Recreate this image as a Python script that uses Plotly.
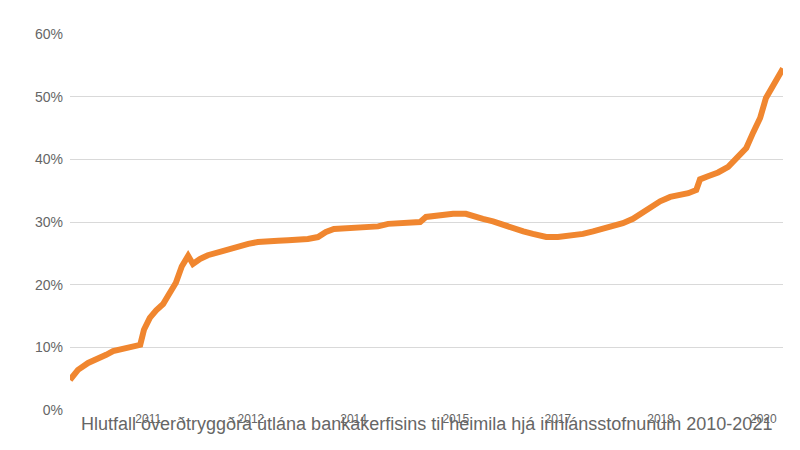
import plotly.graph_objects as go

months = [0,1.5,3.4,5.3,6.8,8.1,10,11.8,13.2,13.9,15,16.2,17.5,18.4,19.9,21,22.2,23.1,24.4,25.9,27.8,29.3,30.6,32,33.5,35.3,37.2,39.1,41,42.9,44.7,46.6,48.1,49.6,51.3,54.1,56,57.9,59.8,61.7,63.5,65.8,66.9,69.2,72,74.4,75.8,77.6,79.5,81.4,83.3,85.2,87,89.5,91.7,94,96.4,98.3,100.2,102.1,103.9,105.8,107.3,109,110.9,112.8,114.7,116.2,117.7,118.4,119.9,121.8,123.7,125.2,127.1,128.4,129.7,130.8,132.1,134]
values = [4.8,6.4,7.5,8.1,8.8,9.4,9.7,10.0,10.4,12.8,14.7,15.9,16.9,18.2,20.3,22.9,24.6,23.3,24.1,24.7,25.2,25.4,25.8,26.3,26.5,26.8,27.0,27.0,27.1,27.1,27.3,27.6,28.4,28.9,29.0,29.0,29.2,29.3,29.7,29.8,29.8,30.0,30.8,31.1,31.3,31.3,30.9,30.5,30.1,29.5,28.9,28.5,28.1,27.6,27.6,27.8,28.1,28.5,28.9,29.3,29.8,30.5,31.4,32.4,33.3,34.0,34.3,34.6,35.1,36.8,37.3,37.9,38.8,40.0,41.8,44.3,46.6,49.8,51.8,54.5]
tick_pos = [14.7,34,53.3,72.5,91.7,111,130.3]
tick_labels = ["2011","2012","2014","2015","2017","2019","2020"]
y_ticks = [0,10,20,30,40,50,60]
y_labels = ["0%","10%","20%","30%","40%","50%","60%"]
title = "Hlutfall óverðtryggðra útlána bankakerfisins til heimila hjá innlánsstofnunum 2010-2021"

fig = go.Figure(go.Scatter(x=months, y=values, mode="lines",
    line=dict(color="#f0862f", width=6), hoverinfo="skip"))
fig.update_layout(
    width=800, height=450, plot_bgcolor="white", paper_bgcolor="white",
    margin=dict(l=62, r=25, t=26, b=48), showlegend=False,
    font=dict(family="Liberation Sans, Arial", color="#666666"),
    xaxis=dict(range=[0,134], tickvals=tick_pos, ticktext=tick_labels, automargin=False,
               showgrid=False, zeroline=False, showline=False,
               tickfont=dict(size=12, color="#666666"), ticklen=0),
    yaxis=dict(range=[0,60], tickvals=y_ticks, ticktext=y_labels, automargin=False,
               gridcolor="#d9d9d9", zeroline=False, showline=False,
               tickfont=dict(size=14, color="#666666"), ticklabelstandoff=6),
    annotations=[dict(text=title, xref="paper", yref="paper", x=0.5, y=-0.005,
                      xanchor="center", yanchor="top", showarrow=False,
                      font=dict(size=18, color="#666666"))],
)
fig.write_html("out.html")
